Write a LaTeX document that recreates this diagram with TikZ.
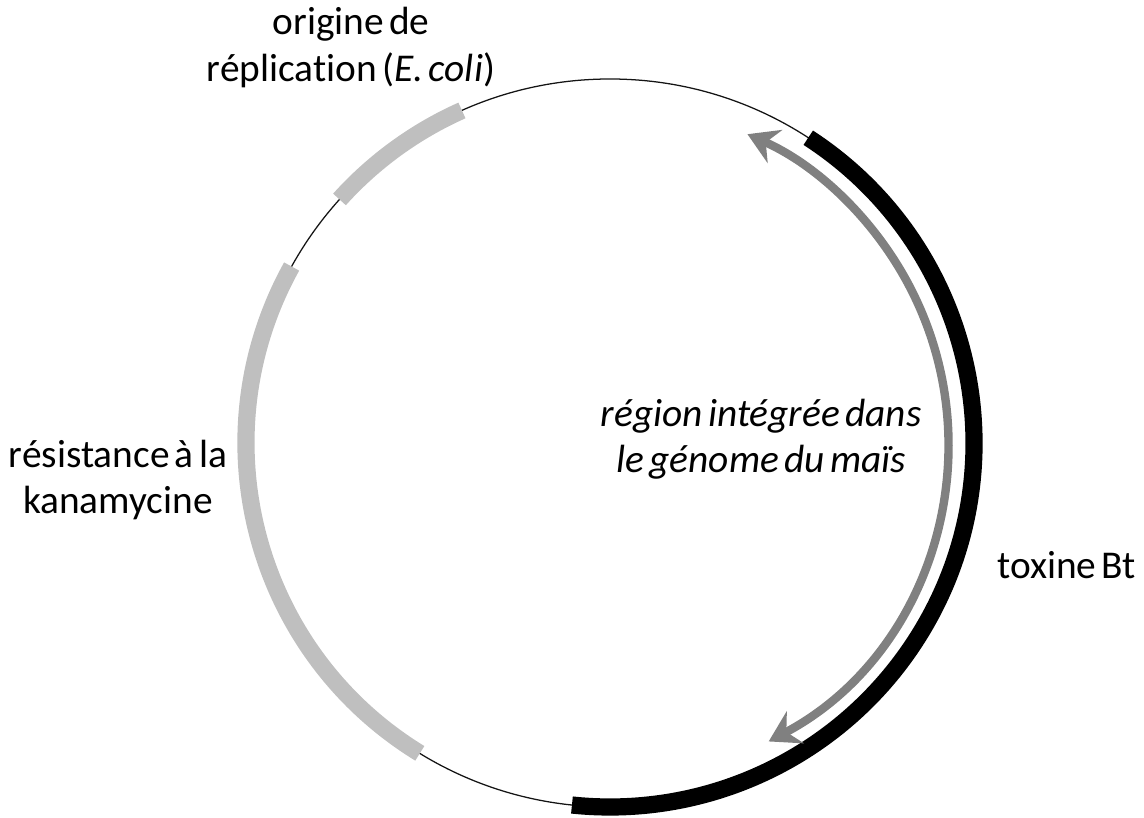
\documentclass[tikz,border=0pt]{standalone}
\usepackage{fontspec}
\setmainfont[WordSpace=0.6, Ligatures=NoCommon]{Carlito}
\usepackage{tikz}
\usetikzlibrary{arrows.meta, positioning}
\definecolor{oriclr}{RGB}{191,191,191}
\definecolor{regclr}{RGB}{128,128,128}
\definecolor{bbone}{RGB}{20,20,20}

\begin{document}
\begin{tikzpicture}[font=\fontsize{28}{33}\selectfont,
    gene/.style={line width=0.43cm},
    regarrow/.style={{Stealth[length=0.75cm, width=0.9cm, inset=0.25cm]}-{Stealth[length=0.75cm, width=0.9cm, inset=0.25cm]},
      regclr, line width=0.21cm}]
        \useasboundingbox (-15.25,-9.375) rectangle (13.35,11.075);
        \coordinate (ctr) at (0,0);
        % plasmid backbone
        \draw[bbone, line width=0.9pt] (ctr) circle (9.1);
        % genes on the plasmid
        \draw[gene, oriclr] (114:9.1) arc[start angle=114, end angle=138, radius=9.1];
        \draw[gene, oriclr] (151:9.1) arc[start angle=151, end angle=238.5, radius=9.1];
        \draw[gene, black] (57:9.1) arc[start angle=57, end angle=-96, radius=9.1];
        % integrated region
        \coordinate (regbot) at (-62:8.45);
        \draw[regarrow] (regbot) arc[start angle=-62, end angle=66, radius=8.45];
        % labels
        \node[align=center] (ori) at (-6.475,9.89) {origine de\\r\'{e}plication (\textit{E. coli})};
        \node[align=center] (kan) at (-12.3,-0.93) {r\'{e}sistance \`{a} la\\kanamycine};
        \node[align=center, font=\fontsize{28}{33}\selectfont\itshape] (reg) at (3.78,0.1)
          {r\'{e}gion int\'{e}gr\'{e}e dans\\le g\'{e}nome du ma\"{i}s};
        \node (tox) at (11.42,-3.05) {toxine Bt};
      \end{tikzpicture}
\end{document}
